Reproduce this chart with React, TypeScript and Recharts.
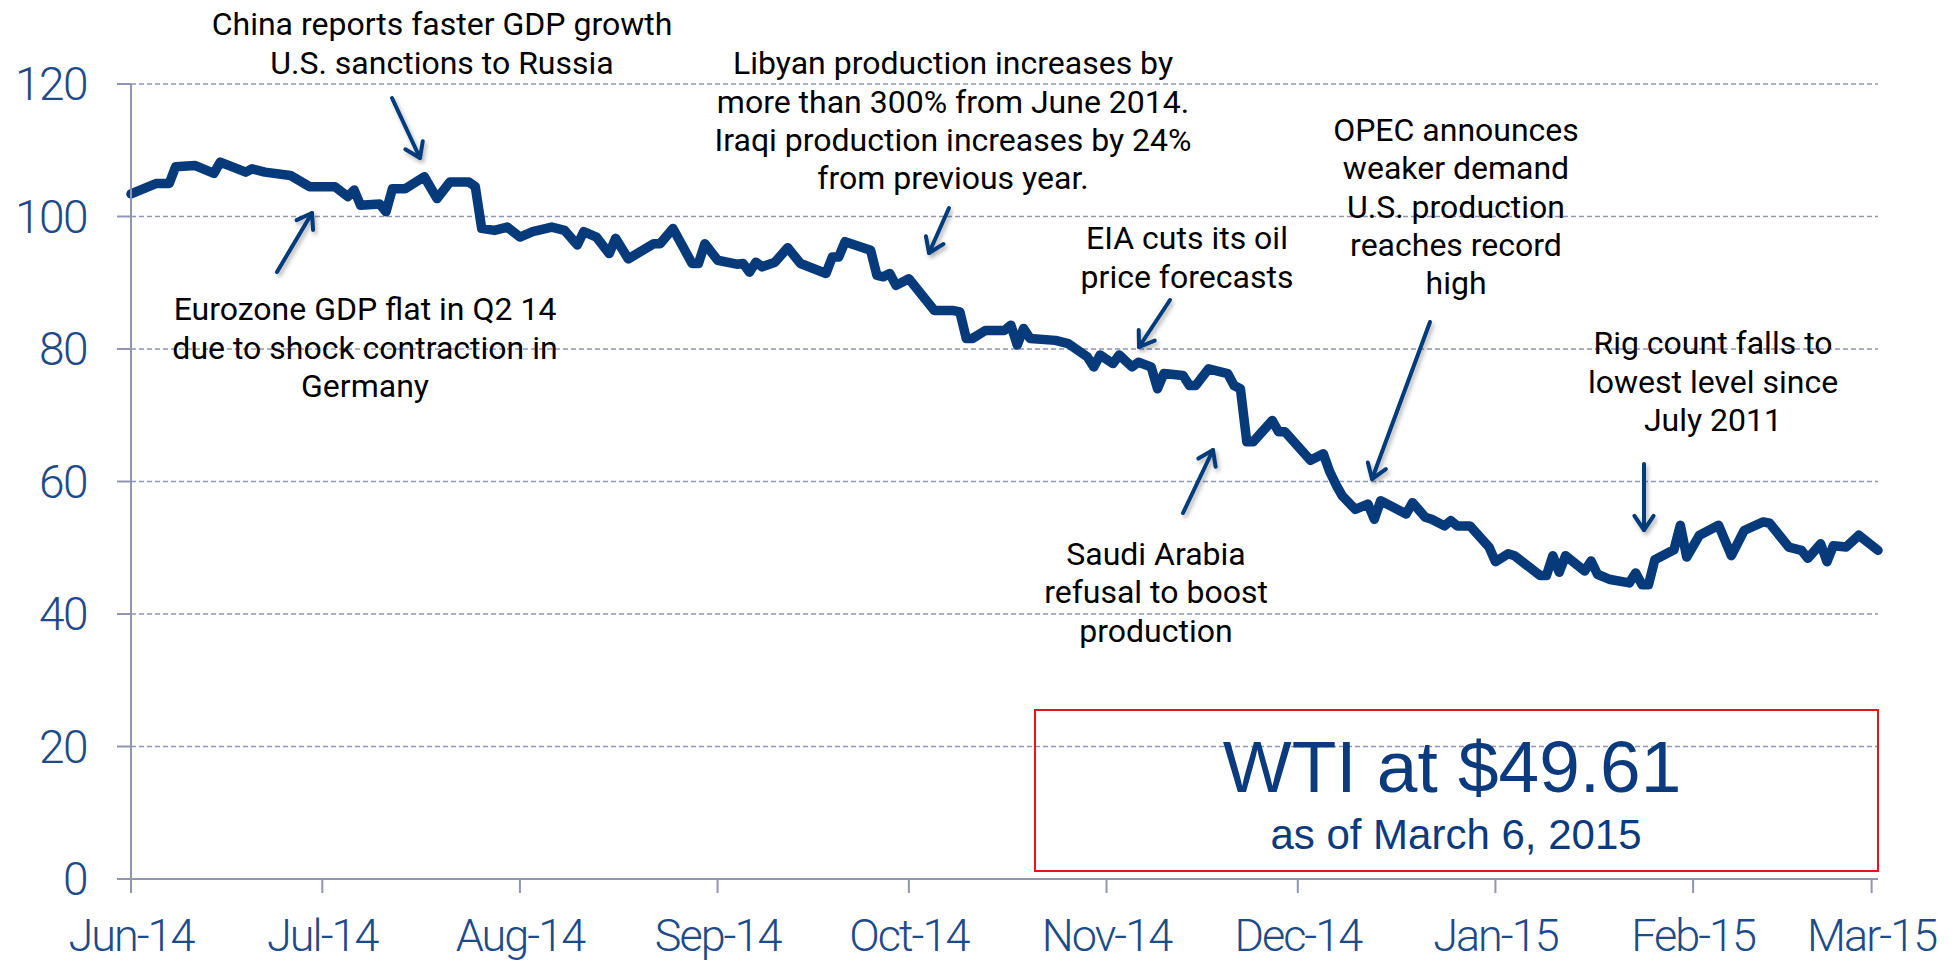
import { LineChart, Line, CartesianGrid, XAxis, YAxis } from "recharts";

// WTI daily price
const dates = [
  "2014-06-01", "2014-06-05", "2014-06-07", "2014-06-08", "2014-06-11", "2014-06-14", "2014-06-15", "2014-06-19",
  "2014-06-20", "2014-06-22", "2014-06-26", "2014-06-29", "2014-07-03", "2014-07-05", "2014-07-06", "2014-07-07",
  "2014-07-10", "2014-07-11", "2014-07-12", "2014-07-14", "2014-07-17", "2014-07-19", "2014-07-21", "2014-07-24",
  "2014-07-25", "2014-07-26", "2014-07-28", "2014-07-30", "2014-08-01", "2014-08-03", "2014-08-06", "2014-08-08",
  "2014-08-10", "2014-08-11", "2014-08-13", "2014-08-15", "2014-08-16", "2014-08-18", "2014-08-22", "2014-08-23",
  "2014-08-25", "2014-08-28", "2014-08-29", "2014-08-30", "2014-09-01", "2014-09-04", "2014-09-05", "2014-09-06",
  "2014-09-07", "2014-09-08", "2014-09-10", "2014-09-12", "2014-09-14", "2014-09-18", "2014-09-19", "2014-09-20",
  "2014-09-21", "2014-09-25", "2014-09-26", "2014-09-27", "2014-09-28", "2014-09-29", "2014-10-01", "2014-10-05",
  "2014-10-08", "2014-10-09", "2014-10-10", "2014-10-11", "2014-10-13", "2014-10-16", "2014-10-17", "2014-10-18",
  "2014-10-19", "2014-10-20", "2014-10-24", "2014-10-26", "2014-10-29", "2014-10-30", "2014-10-31", "2014-11-02",
  "2014-11-03", "2014-11-05", "2014-11-06", "2014-11-08", "2014-11-09", "2014-11-10", "2014-11-13", "2014-11-14",
  "2014-11-15", "2014-11-17", "2014-11-20", "2014-11-21", "2014-11-22", "2014-11-23", "2014-11-24", "2014-11-27",
  "2014-11-28", "2014-11-29", "2014-12-03", "2014-12-05", "2014-12-06", "2014-12-07", "2014-12-08", "2014-12-10",
  "2014-12-12", "2014-12-13", "2014-12-14", "2014-12-18", "2014-12-19", "2014-12-21", "2014-12-22", "2014-12-24",
  "2014-12-25", "2014-12-26", "2014-12-28", "2014-12-31", "2015-01-01", "2015-01-03", "2015-01-04", "2015-01-08",
  "2015-01-09", "2015-01-10", "2015-01-11", "2015-01-12", "2015-01-15", "2015-01-16", "2015-01-17", "2015-01-19",
  "2015-01-22", "2015-01-23", "2015-01-24", "2015-01-25", "2015-01-26", "2015-01-29", "2015-01-30", "2015-01-31",
  "2015-02-02", "2015-02-05", "2015-02-07", "2015-02-09", "2015-02-12", "2015-02-13", "2015-02-16", "2015-02-18",
  "2015-02-19", "2015-02-21", "2015-02-22", "2015-02-23", "2015-02-25", "2015-02-27", "2015-03-02",
];

const wti = [
  103.4, 105.0, 105.0, 107.5, 107.7, 106.5, 108.2, 106.7,
  107.2, 106.7, 106.2, 104.5, 104.5, 103.0, 104.0, 101.7,
  101.9, 100.7, 104.2, 104.2, 106.0, 102.7, 105.2, 105.2,
  104.5, 98.2, 97.9, 98.4, 96.9, 97.7, 98.4, 97.9,
  95.7, 97.7, 96.9, 94.4, 96.7, 93.6, 95.9, 95.9,
  98.2, 92.9, 92.9, 95.9, 93.4, 92.8, 92.9, 91.6,
  93.1, 92.4, 93.1, 95.3, 92.9, 91.4, 93.9, 93.9,
  96.2, 94.9, 91.1, 90.9, 91.4, 89.6, 90.6, 85.8,
  85.8, 85.6, 81.6, 81.6, 82.8, 82.8, 83.6, 80.6,
  83.1, 81.6, 81.3, 80.8, 78.8, 77.3, 79.1, 77.8,
  79.1, 77.3, 78.0, 77.3, 74.0, 76.3, 76.0, 74.5,
  74.5, 77.0, 76.3, 74.5, 74.0, 66.0, 66.0, 69.2,
  67.5, 67.5, 63.2, 64.2, 61.5, 59.5, 57.8, 55.8,
  56.6, 54.3, 57.1, 55.1, 56.8, 54.6, 54.3, 53.3,
  54.1, 53.3, 53.3, 50.1, 47.9, 49.1, 48.8, 45.8,
  45.8, 48.8, 46.3, 48.8, 46.5, 48.0, 46.0, 45.2,
  44.7, 46.2, 44.4, 44.4, 48.2, 49.7, 53.4, 48.6,
  51.9, 53.4, 48.8, 52.6, 53.9, 53.7, 50.1, 49.6,
  48.4, 50.6, 47.9, 50.3, 50.1, 51.9, 49.6,
];

const monthTicks = [
  "2014-06-01", "2014-07-01", "2014-08-01", "2014-09-01", "2014-10-01",
  "2014-11-01", "2014-12-01", "2015-01-01", "2015-02-01", "2015-03-01",
];
const monthLabels = ["Jun-14", "Jul-14", "Aug-14", "Sep-14", "Oct-14", "Nov-14", "Dec-14", "Jan-15", "Feb-15", "Mar-15"];
const yTicks = [0, 20, 40, 60, 80, 100, 120];

const START = Date.UTC(2014, 5, 1);
const toDay = (d: string) => (Date.parse(d + "T00:00:00Z") - START) / 86400000;

const data = dates.map((d, i) => ({ day: toDay(d), price: wti[i] }));
const xTicks = monthTicks.map(toDay);
const END_DAY = toDay("2015-03-02");

const annotations = [
  { x: 442, y: [24, 63], lines: ["China reports faster GDP growth", "U.S. sanctions to Russia"] },
  { x: 365, y: [309, 348, 386], lines: ["Eurozone GDP flat in Q2 14", "due to shock contraction in", "Germany"] },
  {
    x: 953,
    y: [63, 102, 140, 178],
    lines: ["Libyan production increases by", "more than 300% from June 2014.", "Iraqi production increases by 24%", "from previous year."],
  },
  { x: 1187, y: [238, 277], lines: ["EIA cuts its oil", "price forecasts"] },
  { x: 1456, y: [130, 168, 207, 245, 283], lines: ["OPEC announces", "weaker demand", "U.S. production", "reaches record", "high"] },
  { x: 1156, y: [554, 592, 631], lines: ["Saudi Arabia", "refusal to boost", "production"] },
  { x: 1713, y: [343, 382, 420], lines: ["Rig count falls to", "lowest level since", "July 2011"] },
];

// tail -> head
const arrows = [
  [392, 98, 420, 158],
  [277, 272, 312, 213],
  [949, 208, 929, 253],
  [1170, 300, 1139, 347],
  [1430, 322, 1372, 479],
  [1183, 513, 1213, 450],
  [1644, 464, 1644, 530],
];

const NAVY = "#063a7a";
const TICK_BLUE = "#1d4a88";
const AXIS = "#8f95b3";

function Arrow({ a }: { a: number[] }) {
  const [x1, y1, x2, y2] = a;
  const ang = Math.atan2(y2 - y1, x2 - x1);
  const len = 17;
  const spread = 0.6;
  const w1 = [x2 - len * Math.cos(ang - spread), y2 - len * Math.sin(ang - spread)];
  const w2 = [x2 - len * Math.cos(ang + spread), y2 - len * Math.sin(ang + spread)];
  return (
    <g stroke={NAVY} strokeWidth={4} strokeLinecap="round" fill="none" filter="url(#shadow)">
      <line x1={x1} y1={y1} x2={x2} y2={y2} />
      <polyline points={`${w1[0]},${w1[1]} ${x2},${y2} ${w2[0]},${w2[1]}`} strokeLinejoin="round" />
    </g>
  );
}

export default function App() {
  return (
    <div style={{ position: "relative", width: 1960, height: 962, background: "#fff" }}>
      <style>{`body{margin:0}`}</style>
      <LineChart width={1960} height={962} data={data} margin={{ top: 84, right: 82, left: 31, bottom: 0 }}>
        <CartesianGrid horizontal vertical={false} stroke={AXIS} strokeWidth={1.5} strokeDasharray="5 3" />
        <XAxis
          type="number"
          dataKey="day"
          domain={[0, END_DAY]}
          ticks={xTicks}
          interval={0}
          height={83}
          stroke={AXIS}
          strokeWidth={2}
          tickSize={14}
          tick={(p: any) => (
            <text
              x={p.x}
              y={951}
              textAnchor="middle"
              fill={TICK_BLUE}
              fontFamily="Roboto"
              fontWeight={300}
              fontSize={45}
              letterSpacing={-2}
            >
              {monthLabels[xTicks.indexOf(p.payload.value)]}
            </text>
          )}
        />
        <YAxis
          domain={[0, 120]}
          ticks={yTicks}
          interval={0}
          width={100}
          stroke={AXIS}
          strokeWidth={2}
          tickSize={14}
          tick={(p: any) => (
            <text
              x={87}
              y={p.y}
              dy={16}
              textAnchor="end"
              fill={TICK_BLUE}
              fontFamily="Roboto"
              fontWeight={300}
              fontSize={46}
              letterSpacing={-1.5}
            >
              {p.payload.value}
            </text>
          )}
        />
        <Line
          type="linear"
          dataKey="price"
          stroke={NAVY}
          strokeWidth={9.5}
          strokeLinejoin="round"
          strokeLinecap="round"
          dot={false}
          activeDot={false}
          isAnimationActive={false}
        />
      </LineChart>
      <svg width={1960} height={962} style={{ position: "absolute", left: 0, top: 0, pointerEvents: "none" }}>
        <defs>
          <filter id="shadow" x="-20%" y="-20%" width="140%" height="140%">
            <feDropShadow dx={2} dy={3} stdDeviation={2} floodColor="#000" floodOpacity={0.3} />
          </filter>
        </defs>
        {annotations.map((a, i) => (
          <text key={i} textAnchor="middle" fontFamily="Roboto" fontSize={32} fill="#000">
            {a.lines.map((l, j) => (
              <tspan key={j} x={a.x} y={a.y[j] + 11}>
                {l}
              </tspan>
            ))}
          </text>
        ))}
        {arrows.map((a, i) => (
          <Arrow key={i} a={a} />
        ))}
        <rect x={1035} y={710} width={843} height={161} fill="none" stroke="#e8141b" strokeWidth={2} />
        <text x={1452} y={792} textAnchor="middle" fontFamily="Liberation Sans, Arial" fontSize={73} fill="#0b3a7e">
          WTI at $49.61
        </text>
        <text x={1456} y={849} textAnchor="middle" fontFamily="Liberation Sans, Arial" fontSize={42} fill="#0b3a7e">
          as of March 6, 2015
        </text>
      </svg>
    </div>
  );
}
